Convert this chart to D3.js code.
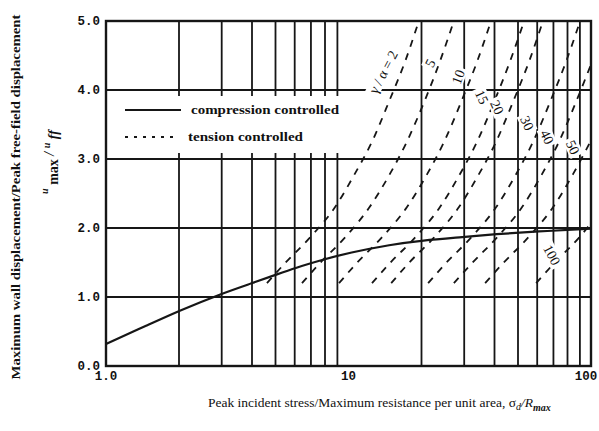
<!DOCTYPE html>
<html>
<head>
<meta charset="utf-8">
<script src="https://cdn.jsdelivr.net/npm/d3@7"></script>
<style>
  body { margin: 0; background: #fff; }
  svg text { fill: #111; }
</style>
</head>
<body>
<div id="chart"></div>
<script>
// compression controlled curve (solid)
const compX = [1, 1.5, 2, 3, 4, 5, 6, 8, 10, 15, 20, 30, 40, 60, 100];
const compY = [0.32, 0.6, 0.8, 1.05, 1.2, 1.32, 1.42, 1.55, 1.64, 1.76, 1.82, 1.87, 1.91, 1.95, 1.99];

// tension controlled curves (dashed), one per gamma/alpha
const tensionNames = ["2", "5", "10", "15", "20", "30", "40", "50", "100"];
const tensionX = [
    [4.61, 5.47, 6.93, 8.79, 10.6, 12.5, 14.8, 17.1, 19.5],
    [6.43, 7.62, 9.66, 12.2, 14.8, 17.4, 20.7, 23.8, 27.2],
    [9.14, 10.8, 13.7, 17.4, 21.1, 24.8, 29.4, 33.9, 38.7],
    [12.5, 14.8, 18.8, 23.8, 28.8, 33.9, 40.2, 46.3, 53.0],
    [15.0, 17.7, 22.5, 28.5, 34.5, 40.6, 48.1, 55.5, 63.4],
    [21.3, 25.2, 32.0, 40.6, 49.1, 57.7, 68.4, 78.9, 90.2],
    [27.2, 32.3, 40.9, 51.9, 62.8, 73.8, 87.5, 100],
    [36.6, 43.4, 55.0, 69.7, 84.3, 100],
    [59.4, 70.5, 89.3, 100]
];
const tensionY = [
    [1.20, 1.49, 1.86, 2.30, 2.78, 3.25, 3.86, 4.41, 5.00],
    [1.20, 1.49, 1.86, 2.30, 2.78, 3.25, 3.86, 4.41, 5.00],
    [1.20, 1.49, 1.86, 2.30, 2.78, 3.25, 3.86, 4.41, 5.00],
    [1.20, 1.49, 1.86, 2.30, 2.78, 3.25, 3.86, 4.41, 5.00],
    [1.20, 1.49, 1.86, 2.30, 2.78, 3.25, 3.86, 4.41, 5.00],
    [1.20, 1.49, 1.86, 2.30, 2.78, 3.25, 3.86, 4.41, 5.00],
    [1.20, 1.49, 1.86, 2.30, 2.78, 3.25, 3.86, 4.37],
    [1.20, 1.49, 1.86, 2.30, 2.78, 3.27],
    [1.20, 1.49, 1.86, 2.07]
];

// curve labels: text, x, y, rotation
const labelText = ["\u03b3 / \u03b1 = 2", "5", "10", "15", "20", "30", "40", "50", "100"];
const labelX = [13.9, 21.7, 28.3, 35.5, 41.0, 54.5, 65.9, 84.3, 69.0];
const labelY = [4.26, 4.39, 4.19, 3.90, 3.75, 3.52, 3.32, 3.17, 1.61];
const labelRot = [-62, -62, -70, 65, 65, 65, 65, 65, 62];

const xTickVals = [1, 10, 100];
const xTickText = ["1.0", "10", "100"];
const yTickVals = [0, 1, 2, 3, 4, 5];
const yTickText = ["0.0", "1.0", "2.0", "3.0", "4.0", "5.0"];
const xMinor = [2, 3, 4, 5, 6, 7, 8, 9, 20, 30, 40, 50, 60, 70, 80, 90];
const yGrid = [1, 2, 3, 4];

let WIDTH = 599,
    HEIGHT = 431,
    LEFT = 106,
    RIGHT = 591,
    TOP = 21,
    BOTTOM = 366,
    INK = "#161616";

let svg = d3.select("#chart").append("svg")
    .attr("width", WIDTH)
    .attr("height", HEIGHT);

let x = d3.scaleLog().domain([1, 100]).range([LEFT, RIGHT]);
let y = d3.scaleLinear().domain([0, 5]).range([BOTTOM, TOP]);

// grid
let grid = svg.append("g");
grid.selectAll("line.v")
    .data(xMinor)
    .join("line")
    .attr("x1", d => x(d)).attr("x2", d => x(d))
    .attr("y1", TOP).attr("y2", BOTTOM)
    .attr("stroke", INK).attr("stroke-width", 1.8);
grid.selectAll("line.h")
    .data(yGrid)
    .join("line")
    .attr("x1", LEFT).attr("x2", RIGHT)
    .attr("y1", d => y(d)).attr("y2", d => y(d))
    .attr("stroke", INK).attr("stroke-width", 2.2);

// legend box knocks out the grid
svg.append("rect")
    .attr("x", LEFT + 2).attr("y", 96)
    .attr("width", 235).attr("height", 57)
    .attr("fill", "#fff");

// curves
let line = d3.line()
    .x(d => x(d[0]))
    .y(d => y(d[1]))
    .curve(d3.curveMonotoneX);

let tensionData = tensionX.map((xs, i) => xs.map((v, j) => [v, tensionY[i][j]]));
svg.append("g")
    .selectAll("path")
    .data(tensionData)
    .join("path")
    .attr("d", line)
    .attr("fill", "none")
    .attr("stroke", INK)
    .attr("stroke-width", 1.8)
    .attr("stroke-dasharray", "7,7");

svg.append("path")
    .datum(compX.map((v, i) => [v, compY[i]]))
    .attr("d", line.curve(d3.curveBasis))
    .attr("fill", "none")
    .attr("stroke", INK)
    .attr("stroke-width", 2.2);

// curve labels with white knockouts
let lab = svg.append("g")
    .selectAll("g")
    .data(labelText)
    .join("g")
    .attr("transform", (d, i) => `translate(${x(labelX[i])},${y(labelY[i])}) rotate(${labelRot[i]})`);
lab.append("rect")
    .attr("x", d => -d.length * 3.8 - 2)
    .attr("y", -7)
    .attr("width", d => d.length * 7.6 + 4)
    .attr("height", 14)
    .attr("fill", "#fff");
lab.append("text")
    .attr("text-anchor", "middle")
    .attr("dy", "0.35em")
    .attr("font-family", "Liberation Serif")
    .attr("font-size", 14)
    .text(d => d);

// frame
svg.append("rect")
    .attr("x", LEFT).attr("y", TOP)
    .attr("width", RIGHT - LEFT).attr("height", BOTTOM - TOP)
    .attr("fill", "none")
    .attr("stroke", INK)
    .attr("stroke-width", 2.4);

// tick labels
svg.append("g")
    .selectAll("text")
    .data(yTickVals)
    .join("text")
    .attr("x", LEFT - 6)
    .attr("y", d => y(d))
    .attr("dy", "0.35em")
    .attr("text-anchor", "end")
    .attr("font-family", "Liberation Mono")
    .attr("font-weight", "bold")
    .attr("font-size", 12.5)
    .text((d, i) => yTickText[i]);

svg.append("g")
    .selectAll("text")
    .data(xTickVals)
    .join("text")
    .attr("x", d => Math.min(x(d), WIDTH - 13))
    .attr("y", BOTTOM + 14)
    .attr("text-anchor", "middle")
    .attr("font-family", "Liberation Mono")
    .attr("font-weight", "bold")
    .attr("font-size", 12.5)
    .text((d, i) => xTickText[i]);

// legend
let leg = svg.append("g").attr("font-family", "Liberation Serif").attr("font-weight", "bold").attr("font-size", 13);
leg.append("line")
    .attr("x1", 125).attr("x2", 181).attr("y1", 110).attr("y2", 110)
    .attr("stroke", INK).attr("stroke-width", 2);
leg.append("text")
    .attr("x", 191).attr("y", 114)
    .attr("textLength", 148).attr("lengthAdjust", "spacingAndGlyphs")
    .text("compression controlled");
leg.append("line")
    .attr("x1", 125).attr("x2", 178).attr("y1", 137).attr("y2", 137)
    .attr("stroke", INK).attr("stroke-width", 1.8)
    .attr("stroke-dasharray", "3,6");
leg.append("text")
    .attr("x", 188).attr("y", 141)
    .attr("textLength", 115).attr("lengthAdjust", "spacingAndGlyphs")
    .text("tension controlled");

// axis titles
let xt = svg.append("text")
    .attr("x", 208).attr("y", 407)
    .attr("font-family", "Liberation Serif")
    .attr("font-size", 13.5);
xt.append("tspan").text("Peak incident stress/Maximum resistance per unit area,  \u03c3");
xt.append("tspan").attr("font-style", "italic").attr("font-size", 10).attr("dy", 3).text("d");
xt.append("tspan").attr("font-style", "italic").attr("dy", -3).text("/R");
xt.append("tspan").attr("font-style", "italic").attr("font-weight", "bold").attr("font-size", 10).attr("dy", 4).text("max");

svg.append("text")
    .attr("transform", "translate(20,197) rotate(-90)")
    .attr("text-anchor", "middle")
    .attr("font-family", "Liberation Serif")
    .attr("font-weight", "bold")
    .attr("font-size", 11.5)
    .attr("textLength", 365).attr("lengthAdjust", "spacingAndGlyphs")
    .text("Maximum wall displacement/Peak free-field displacement");

let yt = svg.append("text")
    .attr("transform", "translate(54,162) rotate(-90)")
    .attr("text-anchor", "middle")
    .attr("font-family", "Liberation Serif")
    .attr("font-weight", "bold")
    .attr("font-size", 14);
yt.append("tspan").attr("font-style", "italic").attr("font-size", 10).attr("dy", -6).text("u");
yt.append("tspan").attr("dy", 10).text(" max");
yt.append("tspan").attr("dy", -4).attr("font-style", "italic").text("  /  ");
yt.append("tspan").attr("font-style", "italic").attr("font-size", 10).attr("dy", -4).text("u");
yt.append("tspan").attr("font-style", "italic").attr("dy", 8).text(" ff");
</script>
</body>
</html>
